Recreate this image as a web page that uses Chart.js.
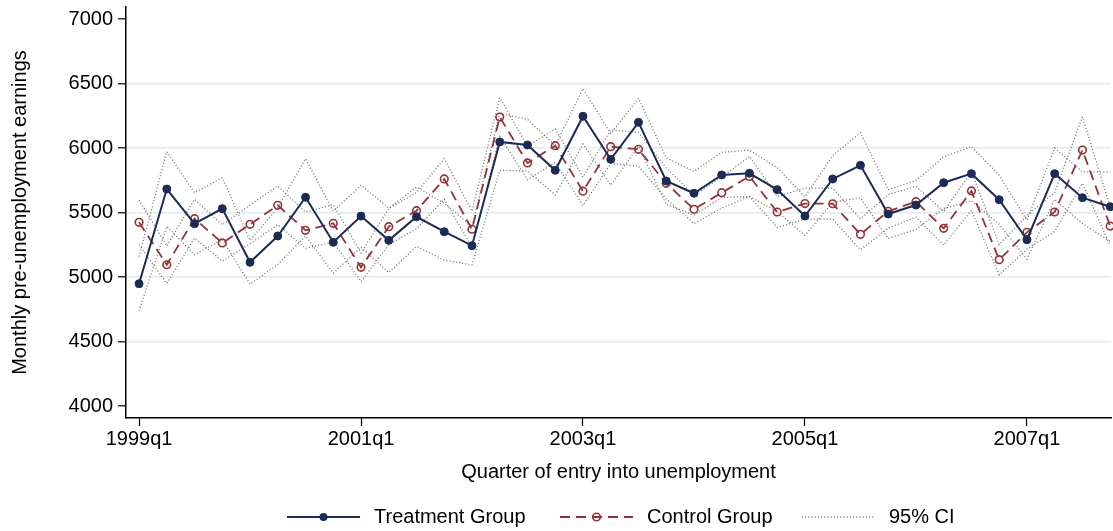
<!DOCTYPE html>
<html>
<head>
<meta charset="utf-8">
<title>Monthly pre-unemployment earnings by quarter of entry</title>
<script src="https://cdn.jsdelivr.net/npm/chart.js@4.4.1/dist/chart.umd.min.js"></script>
<style>
  html, body { margin: 0; padding: 0; background: #ffffff; }
  #wrap { width: 1113px; height: 531px; }
</style>
</head>
<body>
<div id="wrap"><canvas id="chart" width="1113" height="531"></canvas></div>
<script>
// Quarter of entry into unemployment
const quarters = [
  '1999q1','1999q2','1999q3','1999q4','2000q1','2000q2','2000q3','2000q4',
  '2001q1','2001q2','2001q3','2001q4','2002q1','2002q2','2002q3','2002q4',
  '2003q1','2003q2','2003q3','2003q4','2004q1','2004q2','2004q3','2004q4',
  '2005q1','2005q2','2005q3','2005q4','2006q1','2006q2','2006q3','2006q4',
  '2007q1','2007q2','2007q3','2007q4'
];

// Mean monthly pre-unemployment earnings
const treatment = [4948,5682,5413,5530,5114,5318,5618,5269,5472,5284,5467,5351,5243,6047,6023,5827,
                   6246,5912,6199,5744,5649,5791,5804,5677,5473,5760,5866,5488,5558,5731,5801,5599,
                   5289,5801,5615,5545];
const control   = [5424,5095,5452,5264,5408,5556,5362,5416,5075,5390,5514,5760,5370,6240,5884,6018,
                   5665,6010,5990,5726,5525,5654,5780,5504,5569,5568,5331,5509,5584,5377,5667,5134,
                   5346,5504,5984,5395];

// 95% confidence bounds
const treatmentLower = [4738,5392,5173,5290,4944,5098,5318,5029,5232,5034,5237,5131,5093,5827,5823,5637,
                        6031,5712,6013,5564,5479,5616,5624,5507,5323,5580,5613,5298,5368,5531,5591,5409,
                        5139,5601,5415,5275];
const treatmentUpper = [5158,5972,5653,5770,5284,5538,5918,5509,5712,5534,5697,5571,5393,6267,6223,6017,
                        6461,6112,6385,5924,5819,5966,5984,5847,5623,5940,6119,5678,5748,5931,6011,5789,
                        5439,6001,5815,5815];
const controlLower   = [5251,4950,5302,5124,5258,5406,5222,5271,4964,5250,5374,5602,5230,6090,5754,5888,
                        5555,5880,5860,5606,5415,5534,5625,5384,5449,5448,5211,5379,5464,5247,5517,5016,
                        5216,5354,5725,5245];
const controlUpper   = [5597,5240,5602,5404,5558,5706,5502,5561,5186,5530,5654,5918,5510,6390,6014,6148,
                        5775,6140,6120,5846,5635,5774,5935,5624,5689,5688,5451,5639,5704,5507,5817,5252,
                        5476,5654,6243,5545];

// Axis ticks
const xTickIndex = [0, 8, 16, 24, 32];
const yTicks = [4000, 4500, 5000, 5500, 6000, 6500, 7000];

const NAVY = '#1b2b55';
const MAROON = '#933339';
const CI_GREY = '#6f6f6f';
const GRID = '#e2eaee';
const FONT = "'Liberation Sans', Arial, Helvetica, sans-serif";

Chart.defaults.font.family = FONT;
Chart.defaults.font.size = 20;
Chart.defaults.color = '#000';

const toPoints = arr => arr.map((v, i) => ({ x: i, y: v }));

function ciDataset(values) {
  return {
    data: toPoints(values),
    borderColor: CI_GREY,
    borderWidth: 1.3,
    borderDash: [1, 2.2],
    pointRadius: 0,
    fill: false,
    tension: 0
  };
}

// Legend drawn beneath the axis title: line sample, marker and label per series
const bottomLegend = {
  id: 'bottomLegend',
  afterDraw(chart) {
    const ctx = chart.ctx;
    const y = 517;
    const items = [
      { x0: 287, x1: 360, tx: 374, text: 'Treatment Group', color: NAVY, width: 2, dash: [], marker: 'filled' },
      { x0: 560, x1: 633, tx: 647, text: 'Control Group', color: MAROON, width: 1.8, dash: [10, 6], marker: 'hollow' },
      { x0: 802, x1: 875, tx: 889, text: '95% CI', color: CI_GREY, width: 1.3, dash: [1, 2.2], marker: null }
    ];
    ctx.save();
    items.forEach(it => {
      ctx.beginPath();
      ctx.setLineDash(it.dash);
      ctx.strokeStyle = it.color;
      ctx.lineWidth = it.width;
      ctx.moveTo(it.x0, y);
      ctx.lineTo(it.x1, y);
      ctx.stroke();
      ctx.setLineDash([]);
      const cx = (it.x0 + it.x1) / 2;
      if (it.marker === 'filled') {
        ctx.beginPath();
        ctx.fillStyle = it.color;
        ctx.arc(cx, y, 4, 0, Math.PI * 2);
        ctx.fill();
      } else if (it.marker === 'hollow') {
        ctx.beginPath();
        ctx.strokeStyle = it.color;
        ctx.lineWidth = 1.6;
        ctx.arc(cx, y, 3.8, 0, Math.PI * 2);
        ctx.stroke();
      }
      ctx.fillStyle = '#000';
      ctx.font = '20px ' + FONT;
      ctx.textAlign = 'left';
      ctx.textBaseline = 'middle';
      ctx.fillText(it.text, it.tx, y);
    });
    ctx.restore();
  }
};

new Chart(document.getElementById('chart'), {
  type: 'line',
  data: {
    datasets: [
      {
        label: 'Treatment Group',
        data: toPoints(treatment),
        borderColor: NAVY,
        backgroundColor: NAVY,
        borderWidth: 2,
        pointRadius: 4,
        pointBackgroundColor: NAVY,
        pointBorderColor: NAVY,
        pointBorderWidth: 1,
        tension: 0
      },
      {
        label: 'Control Group',
        data: toPoints(control),
        borderColor: MAROON,
        borderWidth: 1.8,
        borderDash: [10, 6],
        pointRadius: 3.8,
        pointBackgroundColor: 'rgba(0,0,0,0)',
        pointBorderColor: MAROON,
        pointBorderWidth: 1.6,
        tension: 0
      },
      Object.assign({ label: '95% CI' }, ciDataset(treatmentUpper)),
      Object.assign({ label: '95% CI (T lower)' }, ciDataset(treatmentLower)),
      Object.assign({ label: '95% CI (C upper)' }, ciDataset(controlUpper)),
      Object.assign({ label: '95% CI (C lower)' }, ciDataset(controlLower))
    ]
  },
  options: {
    responsive: false,
    animation: false,
    clip: 6,
    layout: { autoPadding: false, padding: { top: 7, right: 2, bottom: 43, left: 0 } },
    plugins: {
      legend: { display: false },
      tooltip: { enabled: false }
    },
    scales: {
      x: {
        type: 'linear',
        min: -0.47,
        max: 35.03,
        afterBuildTicks: s => { s.ticks = xTickIndex.map(v => ({ value: v })); },
        afterFit: s => { s.height = 70; s.paddingLeft = 0; s.paddingRight = 0; },
        ticks: {
          autoSkip: false,
          maxRotation: 0,
          padding: 1,
          color: '#000',
          font: { size: 20 },
          callback: v => quarters[v]
        },
        grid: {
          drawOnChartArea: false,
          drawTicks: true,
          tickLength: 8,
          tickColor: '#000',
          tickWidth: 1.2
        },
        border: { display: true, color: '#000', width: 1.5 },
        title: {
          display: true,
          text: 'Quarter of entry into unemployment',
          color: '#000',
          font: { size: 20 },
          padding: { top: 0, bottom: 4 }
        }
      },
      y: {
        min: 3907,
        max: 7093,
        afterBuildTicks: s => { s.ticks = yTicks.map(v => ({ value: v })); },
        afterFit: s => { s.width = 126; s.paddingTop = 0; s.paddingBottom = 0; },
        ticks: {
          padding: 5,
          color: '#000',
          font: { size: 20 },
          callback: v => String(v)
        },
        grid: {
          color: c => (c.tick && (c.tick.value === 4000 || c.tick.value === 7000)) ? 'rgba(0,0,0,0)' : GRID,
          lineWidth: 1.6,
          drawTicks: true,
          tickLength: 8,
          tickColor: '#000',
          tickWidth: 1.2
        },
        border: { display: true, color: '#000', width: 1.5 },
        title: {
          display: true,
          text: 'Monthly pre-unemployment earnings',
          color: '#000',
          font: { size: 20 },
          padding: { top: 8, bottom: 0 }
        }
      }
    }
  },
  plugins: [bottomLegend]
});
</script>
</body>
</html>
